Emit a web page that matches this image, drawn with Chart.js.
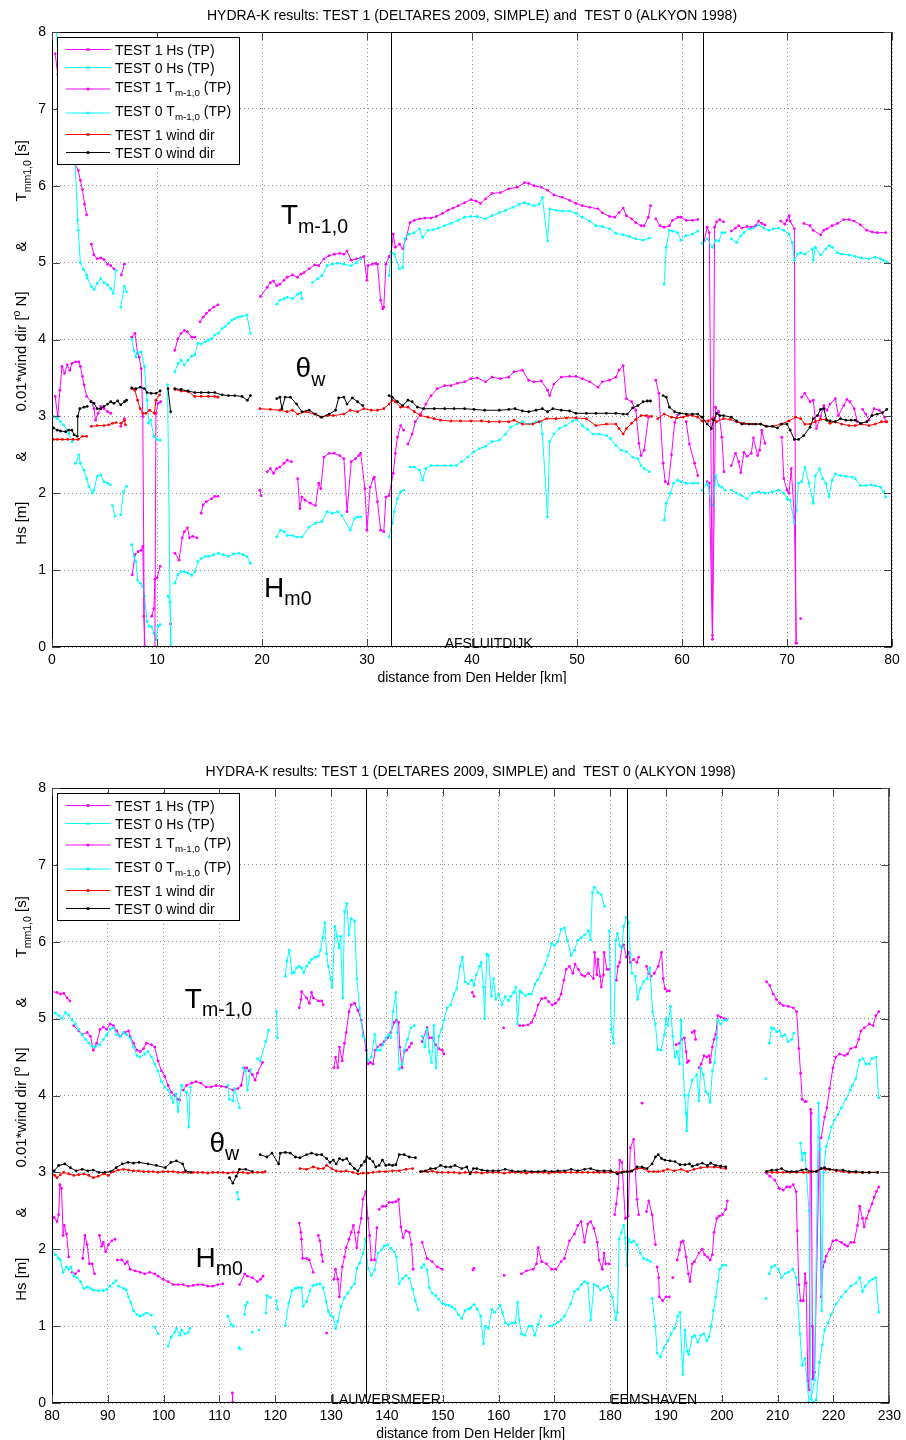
<!DOCTYPE html>
<html>
<head>
    <title>HYDRA-K results</title>
    <script src="https://cdn.jsdelivr.net/npm/chart.js"></script>
    <style>
        body { margin: 0; background: #fff; }
        .painel { position: absolute; left: 0; width: 906px; height: 684px; }
    </style>
</head>
<body>
    <div class="painel" style="top:0"><canvas id="grafico1" width="906" height="684"></canvas></div>
    <div class="painel" style="top:756px"><canvas id="grafico2" width="906" height="684"></canvas></div>
    <script>
        // ---- km 0 - 80 (Den Helder - Afsluitdijk) ----
        const topT1Hs = [[0.3,3.26],[0.55,3.0],[0.75,3.34],[0.95,3.65],[1.2,3.56],[1.45,3.67],[1.7,3.6],[1.9,3.69],[2.25,3.71],[2.55,3.71],[2.7,3.65],[2.9,3.52],[3.05,3.41],[3.3,3.26],[3.75,3.19],[4.0,3.1],[4.15,2.95],[4.4,3.04],[4.65,3.13],[4.95,3.1],[5.3,3.06],[5.6,3.04],null,[6.55,2.87],[6.9,2.97],null,
            [7.65,0.94],[7.9,1.2],[8.2,1.24],[8.5,1.26],[8.65,1.31],[8.75,0.4],[8.85,0.0],null,[9.5,0.4],[9.7,0.5],[9.8,0.88],[10.0,0.9],[10.3,1.05],null,[11.3,0.3],null,
            [11.7,1.22],[12.1,1.13],[12.4,1.42],[12.6,1.5],[12.9,1.55],[13.1,1.42],[13.4,1.44],[13.8,1.42],null,[14.2,1.74],[14.4,1.85],[14.7,1.89],[15.2,1.93],[15.5,1.96],[15.8,1.96],null,
            [19.8,2.04],[19.9,1.97],null,[20.5,2.28],[20.8,2.32],[21.1,2.26],[21.4,2.32],[21.7,2.34],[22.1,2.39],[22.4,2.43],[22.8,2.41],null,[23.4,2.19],[23.6,1.8],[23.8,1.95],[24.1,1.91],[24.6,1.87],[25.1,1.84],[25.4,2.13],[25.6,2.06],[25.9,2.47],[26.4,2.52],[26.9,2.52],[27.4,2.49],[27.8,2.45],[28.1,1.76],[28.5,2.41],[28.9,2.45],[29.2,2.49],[29.4,2.52],[29.8,2.06],[30.0,1.52],[30.3,2.08],[30.6,2.19],[30.7,2.21],[31.0,1.89],[31.3,1.52],[31.6,1.5],[31.8,1.95],[32.1,1.97],[32.5,2.26],[32.7,2.52],[32.9,2.73],[33.2,2.88],[33.5,2.82],null,
            [33.9,2.64],[34.3,2.77],[34.6,2.93],[35.1,3.03],[35.6,3.16],[36.1,3.27],[36.7,3.36],[37.4,3.4],[38.0,3.4],[38.6,3.43],[39.3,3.45],[39.9,3.49],[40.5,3.5],[41.3,3.45],[41.9,3.51],[42.7,3.49],[43.5,3.51],[44.0,3.58],[44.8,3.6],[45.4,3.47],[45.9,3.45],[46.6,3.46],[47.2,3.34],[47.4,3.27],[47.8,3.42],[48.5,3.51],[49.3,3.52],[49.9,3.52],[50.5,3.49],[51.2,3.45],[52.0,3.38],[52.4,3.45],[53.1,3.47],[53.7,3.51],[54.0,3.6],[54.4,3.66],[54.7,3.23],[55.2,3.19],[55.6,3.08],[55.9,2.65],[56.1,2.49],[56.4,2.56],[56.8,2.99],null,
            [57.5,3.47],[57.8,3.3],[58.2,2.39],[58.4,2.15],[58.7,2.12],[59.0,2.5],[59.3,2.92],[59.6,3.02],null,[60.4,2.93],[60.7,2.64],[61.2,2.39],[61.5,2.23],null,[62.4,2.15],[62.6,2.13],[62.9,0.15],[63.2,3.12],[63.5,3.06],[63.8,2.73],[64.0,2.28],null,
            [64.7,2.36],[65.1,2.52],[65.4,2.41],[65.6,2.27],[65.9,2.53],[66.2,2.48],[66.6,2.52],[66.8,2.72],[67.2,2.49],[67.4,2.56],[67.6,2.82],[67.9,2.65],null,[69.5,2.73],[69.7,2.19],[70.0,2.04],[70.2,2.0],[70.4,2.32],[70.7,1.69],[70.9,0.05],null,[71.3,0.37],null,
            [71.4,3.25],[71.7,3.3],[72.2,3.19],[72.5,3.21],[72.8,2.84],[73.2,3.0],[73.5,3.14],[73.8,3.08],[74.1,3.16],[74.6,3.23],[74.9,3.01],[75.4,3.14],[75.7,3.22],[76.0,3.19],[76.4,3.1],[76.7,2.93],null,[77.2,3.09],[77.5,3.03],[77.8,2.95],[78.3,3.1],[78.8,3.08],[79.3,2.99],[79.4,2.93]];

        const topT0Hs = [[0.15,3.0],[0.5,2.97],[0.8,2.93],[1.1,2.89],[1.45,2.82],[1.6,2.78],[1.9,2.67],null,[2.25,2.39],[2.55,2.5],[2.7,2.39],[3.05,2.3],[3.3,2.19],[3.5,2.09],[3.85,2.0],[4.0,2.04],[4.3,2.22],[4.65,2.24],[4.95,2.15],[5.3,2.13],[5.55,2.11],null,[5.75,1.84],[6.0,1.7],null,[6.55,1.72],[6.8,2.02],[7.1,2.09],null,
            [7.6,1.33],[7.8,1.18],[8.0,1.11],[8.15,0.87],[8.4,0.83],[8.65,0.79],[8.8,0.66],[9.05,0.33],[9.3,0.27],[9.5,0.26],[9.7,0.18],[9.9,0.09],[10.1,0.27],[10.3,0.29],null,[11.05,0.66],[11.25,0.58],[11.35,0.0],null,
            [11.7,0.83],[12.0,0.94],[12.3,0.98],[12.6,0.98],[12.95,0.96],[13.3,0.93],[13.6,0.98],[13.9,1.11],[14.2,1.15],[14.6,1.18],[14.9,1.18],[15.4,1.2],[15.85,1.22],[16.3,1.2],[16.8,1.18],[17.3,1.21],[17.8,1.22],[18.2,1.2],[18.55,1.18],[18.9,1.09],null,
            [21.4,1.43],[21.75,1.52],[22.1,1.5],[22.4,1.45],[22.9,1.45],[23.3,1.43],[23.8,1.43],[24.5,1.56],[25.1,1.61],[25.7,1.63],[26.2,1.76],[26.7,1.74],[27.2,1.76],[27.6,1.71],[28.4,1.52],[28.8,1.67],[29.1,1.69],[29.4,1.69],null,[32.1,1.43],[32.4,1.61],[32.6,1.76],[32.9,1.93],[33.2,2.02],[33.5,2.04],null,
            [34.1,2.34],[34.5,2.34],[35.0,2.3],[35.3,2.17],[35.6,2.32],[36.1,2.36],[36.7,2.36],[37.4,2.36],[38.0,2.36],[38.5,2.36],[39.0,2.41],[39.6,2.47],[40.2,2.54],[40.7,2.58],[41.3,2.61],[41.9,2.67],[42.6,2.69],[43.2,2.77],[43.7,2.86],[44.3,2.9],[44.8,2.93],[45.4,2.9],[46.1,2.93],[46.6,2.93],[46.7,2.77],[47.2,1.69],[47.4,2.67],[47.8,2.77],[48.3,2.84],[48.9,2.88],[49.6,2.94],[50.0,2.96],[50.5,2.88],[51.0,2.83],[51.5,2.77],[52.1,2.77],[52.8,2.75],[53.2,2.71],[53.7,2.62],[54.2,2.56],[54.7,2.54],[55.3,2.47],[55.8,2.45],[56.1,2.36],[56.4,2.32],[56.9,2.28],null,
            [58.3,1.65],[58.5,1.87],[58.9,2.0],[59.2,2.13],[59.6,2.17],[59.9,2.15],[60.4,2.13],[61.0,2.13],[61.5,2.13],null,[61.9,2.04],[62.4,2.13],[62.5,2.1],[62.8,1.84],[63.0,1.85],[63.2,2.23],[63.5,2.1],[63.8,2.08],[64.1,2.04],null,
            [64.7,2.04],[65.2,2.0],[65.7,1.97],[66.2,1.93],[66.7,2.0],[67.3,2.02],[67.9,2.0],[68.6,2.02],[69.2,2.04],[69.7,2.0],[70.0,1.93],[70.3,1.91],[70.7,1.61],[70.9,1.78],[71.1,2.13],[71.4,2.15],[71.7,2.34],[72.1,2.13],[72.5,1.87],[72.7,2.23],[73.1,2.32],[73.4,2.19],[73.7,2.13],[74.0,1.95],[74.3,2.17],[74.6,2.25],[75.1,2.23],[75.6,2.22],[76.2,2.21],[76.5,2.19],[77.0,2.1],[77.5,2.1],[78.0,2.11],[78.4,2.1],[78.9,2.08],[79.2,2.02],[79.4,1.95]];

        const topT1Tm = [[0.3,7.72],[0.55,7.45],[1.5,6.9],[2.2,6.28],[2.5,6.2],[2.7,6.07],[2.9,5.95],[3.1,5.76],[3.3,5.62],null,[3.75,5.24],[4.0,5.1],[4.3,5.05],[4.65,5.06],[4.95,5.04],[5.3,4.98],[5.6,4.96],[5.9,4.92],null,[6.6,4.84],[6.9,4.98],null,
            [7.6,4.03],[7.9,4.08],[8.15,3.82],[8.3,3.77],[8.5,3.62],[8.65,3.0],[8.8,0.0],null,[9.8,0.0],[9.9,3.04],[10.1,3.17],[10.35,3.19],null,
            [11.7,3.86],[12.0,4.01],[12.3,4.08],[12.6,4.12],[12.9,4.1],[13.3,4.03],[13.6,4.03],null,[14.1,4.23],[14.4,4.29],[14.7,4.34],[15.0,4.38],[15.4,4.42],[15.8,4.45],null,
            [19.85,4.56],[20.5,4.68],[20.8,4.74],[21.1,4.76],[21.4,4.7],[21.7,4.72],[22.1,4.77],[22.4,4.81],[22.9,4.84],[23.4,4.81],[23.7,4.85],[24.0,4.87],[24.5,4.92],[25.0,4.97],[25.4,4.96],[25.9,5.05],[26.4,5.09],[26.9,5.11],[27.4,5.12],[27.8,5.11],[28.1,5.15],[28.5,5.03],[29.0,5.05],[29.4,5.06],[29.7,5.08],[30.0,4.77],[30.1,4.96],[30.5,4.98],[30.8,4.99],[31.0,4.98],[31.3,4.51],[31.5,4.4],[31.6,4.42],[31.8,4.98],[32.1,5.08],[32.3,5.13],[32.5,5.37],[32.7,5.2],[33.1,5.24],[33.4,5.18],[33.7,5.31],[34.1,5.52],[34.5,5.55],[35.0,5.57],[35.5,5.58],[36.1,5.58],[36.6,5.6],[37.2,5.64],[37.7,5.68],[38.2,5.71],[38.7,5.74],[39.3,5.78],[39.9,5.82],[40.4,5.8],[40.8,5.77],
            [41.3,5.83],[41.9,5.9],[42.7,5.91],[43.5,5.96],[44.3,5.98],[45.0,6.04],[45.4,6.03],[45.9,6.0],[46.6,5.98],[47.2,5.94],[47.8,5.88],[48.6,5.85],[49.3,5.81],[49.9,5.77],[50.5,5.74],[51.2,5.72],[52.0,5.7],[52.4,5.65],[53.1,5.6],[53.6,5.59],[54.0,5.65],[54.4,5.71],[54.7,5.61],[55.2,5.57],[55.6,5.52],[56.1,5.48],[56.4,5.48],[56.8,5.59],[57.0,5.74],null,
            [57.5,5.57],[57.9,5.48],[58.3,5.46],[58.8,5.48],[59.1,5.55],[59.6,5.59],[59.9,5.59],[60.4,5.55],[61.0,5.55],[61.5,5.56],null,[62.1,5.28],[62.4,5.46],[62.6,5.39],[62.9,0.1],[63.1,5.46],[63.3,5.53],[63.6,5.56],[63.95,5.53],null,
            [64.7,5.41],[65.1,5.45],[65.4,5.48],[65.7,5.45],[66.2,5.47],[66.6,5.46],[67.0,5.48],[67.3,5.54],[67.6,5.51],[67.9,5.49],null,[69.4,5.54],[69.8,5.5],[70.0,5.55],[70.2,5.61],[70.3,5.54],[70.7,5.44],[70.85,0.05],null,
            [71.6,5.51],[72.2,5.48],[72.5,5.42],[73.2,5.36],[73.5,5.42],[73.8,5.44],[74.3,5.48],[74.8,5.51],[75.4,5.56],[75.9,5.56],[76.4,5.54],[77.0,5.49],[77.6,5.42],[78.1,5.4],[78.6,5.39],[79.4,5.39]];

        const topT0Tm = [[0.35,8.2],[0.6,7.6],[1.5,6.9],[2.2,6.3],[2.45,5.55],[2.5,5.42],[2.7,5.0],[3.0,4.91],[3.3,4.84],[3.35,4.8],[3.75,4.69],[4.0,4.65],[4.3,4.73],[4.65,4.79],[4.95,4.74],[5.3,4.71],[5.6,4.66],[5.85,4.6],[6.1,4.9],null,[6.55,4.42],[6.9,4.69],[7.1,4.62],null,
            [7.6,4.0],[7.8,3.86],[8.0,3.77],[8.2,3.83],[8.5,3.84],[8.8,3.65],[9.05,3.21],[9.2,2.91],[9.4,2.95],[9.7,2.74],[10.0,2.7],[10.3,2.69],null,[11.0,3.41],[11.3,0.0],null,
            [11.7,3.58],[12.0,3.69],[12.3,3.73],[12.6,3.67],[12.95,3.73],[13.3,3.78],[13.6,3.8],[13.9,3.95],[14.2,3.94],[14.6,3.97],[14.9,3.99],[15.2,4.01],[15.5,4.06],[15.85,4.08],[16.2,4.14],[16.5,4.17],[16.8,4.21],[17.1,4.25],[17.4,4.27],[17.7,4.29],[18.1,4.3],[18.55,4.32],[18.9,4.08],null,
            [21.4,4.46],[21.7,4.51],[22.1,4.53],[22.4,4.55],[22.9,4.53],[23.4,4.59],[23.7,4.61],[23.8,4.53],null,[24.8,4.74],[25.3,4.79],[25.7,4.83],[26.2,4.96],[26.7,4.98],[27.2,4.99],[27.8,4.98],[28.5,4.96],[29.0,5.0],[29.4,5.05],null,
            [32.1,4.83],[32.3,5.13],[32.6,5.11],[33.1,4.92],[33.4,4.94],[33.6,5.31],[34.0,5.37],[34.5,5.39],[35.0,5.44],[35.3,5.33],[35.8,5.42],[36.3,5.43],[36.8,5.45],[37.4,5.48],[38.0,5.51],[38.7,5.55],[39.3,5.59],[39.9,5.6],[40.5,5.6],[41.3,5.57],[41.9,5.61],[42.6,5.65],[43.2,5.68],[43.9,5.72],[44.5,5.76],[45.0,5.78],[45.4,5.76],[45.9,5.74],[46.4,5.76],[46.7,5.85],[47.2,5.28],[47.4,5.7],[48.0,5.68],[48.6,5.67],[49.3,5.67],[49.9,5.64],[50.5,5.59],[51.2,5.54],[51.8,5.48],[52.4,5.47],[53.1,5.44],[53.7,5.38],[54.4,5.36],[55.0,5.34],[55.6,5.31],[56.3,5.29],[56.9,5.32],null,
            [58.3,4.72],[58.5,5.2],[58.8,5.42],[59.1,5.41],[59.6,5.39],[59.9,5.29],[60.4,5.35],[61.0,5.37],[61.5,5.41],null,[61.9,5.25],[62.4,5.31],[62.9,5.2],[63.2,5.29],[63.5,5.28],[63.8,5.39],[64.1,5.39],null,
            [64.7,5.31],[65.2,5.26],[65.6,5.35],[65.9,5.39],[66.4,5.44],[66.8,5.45],[67.3,5.49],[67.8,5.45],[68.3,5.42],[68.7,5.44],[69.2,5.45],[69.7,5.42],[70.2,5.37],[70.5,5.26],[70.7,5.03],[71.0,5.11],[71.3,5.13],[71.7,5.11],[72.4,5.18],[72.5,5.03],[72.7,5.2],[73.2,5.1],[73.7,5.18],[74.0,5.22],[74.3,5.2],[74.8,5.13],[75.2,5.11],[75.9,5.1],[76.5,5.08],[77.1,5.06],[77.8,5.05],[78.4,5.07],[78.9,5.05],[79.2,5.03],[79.5,5.01]];

        const topT1Dir = [[0.15,2.7],[0.5,2.7],[1.0,2.7],[1.5,2.7],[2.0,2.7],[2.5,2.7],[2.9,2.74],[3.3,2.74],null,[3.75,2.87],[4.3,2.88],[4.95,2.88],[5.4,2.89],[5.75,2.91],[6.1,2.92],null,[6.55,2.91],[6.9,2.95],[7.0,2.89],null,
            [7.6,3.36],[7.9,3.34],[8.15,3.21],[8.4,3.1],[8.65,3.04],[8.95,3.04],[9.3,3.08],[9.75,3.04],[9.9,3.21],[10.25,3.28],null,[11.7,3.35],[12.3,3.33],[13.0,3.32],[13.6,3.26],[14.2,3.26],[14.9,3.26],[15.5,3.26],[15.8,3.25],null,
            [19.8,3.1],[20.8,3.09],[21.7,3.08],[22.4,3.06],[22.9,3.08],[23.4,3.03],[24.2,3.06],[25.0,3.03],[25.6,2.99],[26.2,3.01],[26.8,3.01],[27.8,3.03],[28.4,3.08],[29.1,3.06],[29.7,3.1],[30.4,3.08],[31.0,3.08],[31.6,3.1],[32.1,3.16],[32.4,3.21],[32.7,3.19],[33.2,3.12],[33.9,3.12],[34.5,3.06],[35.1,3.01],[35.8,2.99],[36.4,2.97],[37.0,2.95],[38.0,2.94],[38.9,2.94],[39.9,2.94],[40.9,2.94],[41.6,2.93],[42.6,2.93],[43.5,2.93],[44.0,2.95],[44.8,2.9],[45.8,2.9],[46.4,2.93],[47.1,2.97],[48.0,2.97],[49.0,2.98],[49.9,2.98],[50.9,2.97],[51.8,2.88],[52.8,2.9],[53.7,2.9],[54.0,2.84],[54.4,2.77],[54.7,2.84],[55.2,2.91],[55.6,2.96],[56.1,3.01],[56.6,3.01],[57.1,3.0],null,
            [57.7,2.97],[58.3,3.03],[59.0,2.99],[59.5,2.98],[60.1,2.99],[60.5,3.01],[61.0,3.01],[61.5,2.99],[61.9,2.94],[62.5,2.94],[62.9,2.97],[63.3,2.93],[63.95,2.97],[64.6,2.96],[65.2,2.93],[65.9,2.91],[66.7,2.9],[67.5,2.9],[68.1,2.87],[68.7,2.87],[69.4,2.9],[70.2,2.94],[70.8,2.99],[71.3,2.97],[71.7,2.9],[72.2,2.9],[72.7,2.93],[73.2,2.96],[73.7,2.96],[74.1,2.91],[74.6,2.93],[75.2,2.9],[75.9,2.88],[76.5,2.88],[77.1,2.9],[77.8,2.88],[78.4,2.9],[79.0,2.93],[79.5,2.93]];

        const topT0Dir = [[0.15,2.85],[0.5,2.82],[0.8,2.81],[1.3,2.8],[1.6,2.82],[1.9,2.82],[2.1,2.76],[2.4,2.74],[2.45,3.0],[2.65,3.1],[3.05,3.12],[3.35,3.13],null,[3.7,3.19],[4.0,3.17],[4.3,3.1],[4.65,3.1],[4.95,3.13],[5.3,3.16],[5.6,3.19],[5.9,3.17],[6.25,3.2],[6.55,3.15],[6.9,3.19],[7.1,3.21],null,
            [7.6,3.37],[8.0,3.36],[8.4,3.38],[8.8,3.36],[9.05,3.31],[9.45,3.3],[9.9,3.3],[10.3,3.33],null,[11.05,3.36],[11.3,3.06],null,[11.7,3.36],[12.3,3.35],[12.95,3.33],[13.6,3.31],[14.2,3.31],[14.9,3.31],[15.5,3.31],[16.2,3.28],[16.8,3.27],[17.4,3.27],[18.1,3.26],[18.6,3.21],[18.9,3.27],null,
            [21.4,3.23],[21.7,3.25],[21.9,3.1],[22.2,3.25],[22.7,3.25],[23.3,3.16],[23.8,3.06],[24.5,3.08],[25.1,3.03],[25.7,2.99],[26.4,3.03],[27.0,3.08],[27.3,3.24],[27.8,3.25],[28.1,3.16],[28.6,3.24],[29.1,3.19],[29.6,3.14],null,
            [32.1,3.27],[32.4,3.25],[32.9,3.19],[33.4,3.14],[33.9,3.21],[34.3,3.19],[34.8,3.12],[35.4,3.1],[36.4,3.1],[37.4,3.1],[38.3,3.1],[39.3,3.1],[40.2,3.09],[41.2,3.08],[42.6,3.08],[43.5,3.09],[44.1,3.1],[44.8,3.07],[45.4,3.06],[46.1,3.08],[46.7,3.1],[47.2,3.06],[47.7,3.1],[48.5,3.08],[49.3,3.07],[49.9,3.04],[50.9,3.04],[51.8,3.04],[52.8,3.04],[53.7,3.04],[54.4,3.03],[54.8,3.03],[55.3,3.11],[55.8,3.14],[56.3,3.19],[56.7,3.2],[57.0,3.2],null,
            [58.2,3.27],[58.5,3.25],[58.8,3.12],[59.3,3.06],[59.8,3.04],[60.4,3.03],[61.0,3.03],[61.5,3.03],[61.9,2.99],[62.4,2.9],[62.8,2.84],[63.0,2.95],[63.3,3.04],[63.6,3.01],[63.95,3.01],[64.7,2.99],[65.2,2.94],[65.7,2.9],[66.4,2.9],[67.0,2.9],[67.5,2.9],[68.0,2.87],[68.6,2.87],[69.1,2.85],[69.5,2.9],[70.0,2.9],[70.3,2.82],[70.7,2.7],[71.1,2.7],[71.6,2.75],[72.2,2.86],[72.5,2.97],[72.9,3.01],[73.2,3.09],[73.5,3.1],[73.8,2.95],[74.1,2.94],[74.6,2.93],[75.1,2.97],[75.6,2.95],[76.1,2.95],[76.5,2.95],[77.0,2.91],[77.6,2.93],[78.1,3.01],[78.6,3.03],[79.1,3.05],[79.5,3.09]];

        // ---- km 80 - 230 (Afsluitdijk - Eemshaven) ----
        const botT1Hs = [[80.0,2.43],[80.4,2.41],[80.9,2.36],[81.2,2.45],[81.4,2.84],[81.7,2.79],[82.0,2.18],[82.2,2.31],[82.6,2.2],[83.0,1.9],null,[83.6,1.7],[84.2,1.68],[84.8,1.72],null,[85.5,1.88],[85.9,2.18],[86.3,2.06],[86.7,1.81],[87.2,1.81],[87.6,1.68],null,[88.5,2.18],[88.9,2.04],[89.2,2.09],[89.6,1.97],[90.1,2.06],[90.7,2.11],[91.3,2.13],null,
            [91.7,1.86],[92.5,1.86],[93.1,1.81],[93.5,1.84],[94.0,1.74],[94.9,1.72],[95.8,1.7],[96.6,1.68],[97.5,1.7],[98.4,1.68],[99.0,1.65],[99.9,1.61],[100.8,1.58],[101.7,1.54],[102.6,1.54],[103.5,1.54],[104.4,1.52],[105.3,1.53],[106.1,1.54],[107.0,1.54],[107.9,1.52],[108.8,1.52],[109.7,1.54],[110.6,1.55],null,[112.3,0.13],[112.35,0.01],null,
            [113.6,1.54],[114.5,1.68],[115.0,1.65],[115.9,1.63],[116.8,1.58],[117.4,1.61],[117.8,1.65],null,
            [124.3,2.34],[124.6,2.22],[124.7,2.13],[124.9,1.88],[125.6,1.88],[126.1,1.86],[126.8,1.7],null,[127.7,2.18],[128.0,2.11],[128.3,1.93],[128.5,1.84],null,[129.2,0.91],null,
            [130.5,1.61],[130.8,1.74],[131.2,1.61],[131.5,1.38],[132.0,1.77],[132.4,1.9],[132.7,2.02],[133.2,2.13],[133.6,2.22],[134.0,2.31],[134.6,2.02],[134.9,2.22],[135.4,2.4],[135.7,2.65],[136.2,2.75],[136.6,2.4],[136.9,2.18],[137.2,1.86],[137.8,1.86],[138.2,2.28],null,
            [138.6,2.52],[139.2,2.56],[139.8,2.56],[140.4,2.61],[141.0,2.61],[141.6,2.62],[142.1,2.65],[142.5,2.29],[142.9,2.15],[143.4,2.24],[144.0,2.22],[144.4,2.06],[144.7,1.74],null,[146.3,2.09],[147.2,1.88],[148.1,1.84],[149.0,1.77],[149.9,1.74],null,[155.4,1.73],[155.6,1.75],null,[161.0,1.66],null,
            [164.1,1.68],[165.0,1.72],[166.2,1.74],[166.8,1.81],[167.1,2.02],[167.7,1.84],[168.6,1.81],[169.5,1.74],[170.3,1.74],[171.2,1.84],[171.8,1.88],[172.7,2.11],[173.6,2.2],[174.2,2.31],[174.8,2.36],[175.4,2.09],[176.0,2.33],[176.5,2.36],[177.1,2.27],[177.7,2.09],[178.0,1.86],[178.6,1.74],[178.9,1.95],[179.2,1.81],[179.8,1.81],null,
            [180.8,2.45],[181.1,2.59],[181.4,2.79],[181.7,3.16],[182.1,3.13],[182.7,2.4],[183.2,2.43],[183.6,3.32],[184.2,3.43],[184.8,2.65],[185.1,2.45],null,[185.7,3.9],null,[186.5,2.49],[186.9,2.63],[187.5,2.45],[188.1,2.06],null,
            [188.4,1.77],[188.7,1.63],[188.8,1.38],[189.4,1.33],[190.0,1.38],[190.6,1.38],null,[191.2,1.63],null,[192.0,1.86],[192.4,1.99],[192.7,2.09],[193.1,2.11],[193.6,1.9],[194.0,1.68],[194.3,1.58],[194.7,1.81],[195.1,1.84],[195.9,1.95],[196.5,2.0],[196.9,1.93],[197.4,1.9],[197.9,1.86],[198.3,1.93],[198.6,2.22],[199.1,2.4],[199.5,2.43],[200.1,2.45],[200.7,2.52],[201.0,2.63],null,
            [208.0,2.99],[208.6,2.95],[209.5,2.9],[210.3,2.79],[211.0,2.77],[211.6,2.81],[212.2,2.81],[212.8,2.84],[213.3,2.75],[213.5,2.24],[213.8,1.54],[214.1,1.33],[214.6,1.33],[214.9,1.68],[215.1,1.56],[215.4,0.29],[215.6,0.17],[215.9,3.82],[216.0,3.77],[216.2,1.0],[216.3,0.31],[216.6,0.4],[217.5,3.45],[217.8,1.38],[218.1,1.77],[218.4,1.84],[218.7,1.91],[219.3,2.0],[219.9,2.11],[220.5,2.12],[221.4,2.09],[222.0,2.06],[222.5,2.04],[223.1,2.09],[223.7,2.09],[224.3,2.31],[224.7,2.56],[225.2,2.4],[225.5,2.29],[225.9,2.4],[226.4,2.5],[226.9,2.59],[227.3,2.68],[227.7,2.75],[228.1,2.81]];

        const botT0Hs = [[80.0,1.99],[80.6,1.93],[81.2,1.88],[81.5,1.86],[82.0,1.7],[82.6,1.77],[83.0,1.74],[83.4,1.77],[83.9,1.65],[84.5,1.63],[85.1,1.58],[85.7,1.49],[86.3,1.51],[86.9,1.49],[87.4,1.47],[88.3,1.46],[89.2,1.46],[89.8,1.48],[90.4,1.52],[91.0,1.56],[91.5,1.59],null,
            [91.9,1.52],[92.8,1.49],[93.3,1.47],[93.7,1.38],[94.1,1.31],[94.6,1.2],[95.2,1.15],[95.8,1.13],[96.4,1.15],[96.9,1.17],[97.8,1.14],null,[98.4,0.99],[99.0,0.9],null,[100.8,0.74],[101.4,0.86],[102.0,0.92],[102.3,0.97],[102.9,0.88],[103.2,0.95],[103.8,0.9],[104.4,0.92],[104.7,0.97],null,
            [111.5,1.13],[112.1,1.02],[112.5,1.0],null,[113.2,2.74],[113.4,2.65],null,[113.5,0.72],[113.7,0.7],null,[114.5,1.15],[114.7,1.27],[115.0,1.31],null,[115.9,0.92],null,[117.1,0.95],null,[118.3,1.17],[118.5,1.4],[119.1,1.37],null,[120.2,1.33],[120.4,1.22],null,
            [121.8,1.01],[122.4,1.3],[123.0,1.46],[123.6,1.49],[124.1,1.5],[124.7,1.5],[125.0,1.26],[125.6,1.32],[126.2,1.46],[126.8,1.53],[127.4,1.54],[128.0,1.55],[128.6,1.5],[129.1,1.32],[129.5,1.19],[129.9,1.14],[130.4,1.12],[130.8,0.97],[131.2,1.06],[131.8,1.26],[132.4,1.37],[133.0,1.43],[133.6,1.5],[134.2,1.55],[134.6,1.75],[135.1,1.82],[135.7,1.95],[136.2,2.13],[136.6,1.75],[137.2,1.66],[137.8,1.73],[138.4,1.95],[139.0,1.99],[139.5,2.04],[140.1,2.06],[140.7,2.01],[141.3,1.97],[141.7,1.9],[142.2,1.55],[142.8,1.62],[143.4,1.66],[144.0,1.62],[144.6,1.48],[145.1,1.33],[145.6,1.21],null,
            [146.2,1.76],[146.6,1.8],[147.2,1.73],[147.6,1.5],[148.1,1.43],[148.7,1.4],[149.3,1.35],[149.9,1.3],[150.5,1.28],[151.1,1.27],[151.7,1.25],[152.2,1.22],[152.8,1.15],[153.4,1.1],[154.0,1.2],[154.6,1.22],[155.0,1.24],[155.6,1.28],[156.2,1.22],[156.8,1.13],[157.3,0.77],[157.6,1.0],[158.2,0.97],[158.8,1.22],[159.3,1.18],[160.3,1.27],[160.7,1.18],[161.2,1.04],[161.8,1.02],[162.4,1.04],[163.0,1.04],[163.4,1.31],[163.7,1.08],[164.1,0.9],[164.7,0.88],[165.4,1.0],[166.0,1.0],[166.5,0.88],[167.1,1.02],[167.6,1.13],null,
            [169.2,1.0],[170.0,1.02],[170.6,1.05],[171.2,1.08],[171.8,1.13],[172.9,1.29],[173.6,1.45],[174.2,1.48],[174.8,1.54],[175.4,1.58],[176.0,1.56],[176.5,1.08],[177.1,1.54],[177.7,1.52],[178.3,1.47],[178.9,1.5],[179.5,1.52],[180.4,1.38],[181.0,1.08],[181.3,1.18],[181.6,2.13],[182.0,2.22],[182.4,2.31],[182.7,2.15],[183.0,1.79],[183.3,2.13],[183.7,2.09],[184.2,2.11],[184.8,2.06],[185.4,1.95],[186.0,1.88],[186.6,1.86],[187.2,1.84],null,
            [187.5,1.36],[188.1,1.0],[188.4,0.65],[189.0,0.6],[189.6,0.72],[190.3,0.81],[190.9,0.9],[191.5,0.97],[192.1,1.13],[192.5,1.18],[193.0,0.37],[193.4,0.95],[193.8,0.67],[194.1,0.63],[194.7,0.86],[195.1,0.88],[195.7,0.79],[196.2,0.88],[196.8,0.9],[197.3,0.81],[197.7,0.86],[198.1,1.0],[198.5,1.2],[198.9,1.38],[199.3,1.58],[199.6,1.74],[200.1,1.79],[200.7,1.79],null,
            [207.9,1.36],null,[208.5,1.68],[208.9,1.77],[209.5,1.79],[210.1,1.74],[210.7,1.63],[211.3,1.68],[211.9,1.7],[212.7,1.74],[213.3,1.63],[214.0,0.9],[214.4,0.49],[214.9,0.58],[215.6,0.01],[216.3,0.01],[216.9,0.04],[217.5,0.53],[218.0,0.76],[218.4,0.95],[219.0,1.04],[219.6,1.15],[220.5,1.29],[221.4,1.38],[222.2,1.45],[223.1,1.52],[224.0,1.56],[224.7,1.63],[225.2,1.45],[225.7,1.52],[226.4,1.58],[227.0,1.61],[227.6,1.63],[228.1,1.18]];

        const botT1Tm = [[80.0,5.35],[80.9,5.34],[81.5,5.32],[82.1,5.33],[82.7,5.27],[83.2,5.23],null,[83.9,4.91],[84.8,4.84],[85.4,4.79],[86.3,4.82],[86.9,4.77],[87.4,4.59],[88.0,4.68],[88.6,4.86],[89.2,4.89],[89.8,4.86],[90.4,4.93],[91.0,4.91],[91.6,4.84],[92.2,4.77],[93.1,4.82],[93.7,4.84],[94.0,4.77],[94.6,4.68],[95.2,4.59],[95.8,4.57],[96.4,4.61],[96.9,4.68],[97.8,4.66],[98.4,4.63],[99.0,4.45],[99.6,4.32],[100.2,4.25],[100.8,4.13],[101.4,4.04],[102.0,4.0],[102.6,3.95],[102.9,3.94],null,
            [103.5,4.07],[104.1,4.13],[105.0,4.16],[105.8,4.18],[106.7,4.16],[107.6,4.11],[108.5,4.11],[109.4,4.13],[110.3,4.12],[111.2,4.11],[112.4,4.07],[113.3,4.09],[113.9,4.13],[114.5,4.36],[114.9,4.36],[115.3,4.32],[115.9,4.27],[116.4,4.2],[116.8,4.29],[117.7,4.43],null,
            [124.3,5.14],[124.6,5.25],[124.7,5.35],[125.6,5.27],[126.1,5.2],[126.5,5.34],[126.8,5.27],[127.7,5.23],[128.3,5.23],[128.6,5.18],null,
            [130.5,4.36],[130.8,4.5],[131.2,4.36],[131.5,4.63],[132.0,4.45],[132.4,4.68],[132.7,4.82],[133.2,5.09],[133.6,5.18],[134.2,5.2],[134.8,5.11],[135.4,4.98],[136.3,4.59],[136.6,4.41],[137.0,4.43],[137.5,4.41],[137.9,4.59],[138.3,4.63],[138.9,4.66],[139.5,4.7],[140.1,4.75],[140.7,4.82],[141.3,4.95],[141.7,4.98],[142.1,4.95],[142.3,4.63],[142.7,4.36],[143.1,4.57],[143.5,4.59],[144.0,4.63],[144.4,4.68],null,
            [146.3,4.7],[147.2,4.88],[147.6,4.75],[148.1,4.75],[148.7,4.66],[149.3,4.61],[149.9,4.59],[150.2,4.54],null,[155.3,5.34],[155.6,5.29],null,[160.9,4.88],null,
            [163.8,4.91],[164.4,4.91],[165.3,4.92],[165.9,4.95],[166.5,5.04],[167.1,5.18],[167.7,5.26],[168.4,5.27],[169.0,5.22],[169.6,5.18],[170.2,5.2],[170.8,5.25],[171.2,5.32],[171.7,5.5],[172.1,5.64],[172.7,5.68],[173.3,5.59],[173.7,5.71],[174.3,5.64],[174.9,5.57],[175.4,5.55],[176.1,5.59],[177.0,5.52],[177.2,5.86],[177.6,5.57],[177.8,5.77],[178.2,5.55],[178.4,5.41],[178.8,5.57],[178.9,5.86],[179.4,5.64],[179.8,5.64],null,
            [181.1,5.5],[181.4,5.68],[181.7,5.73],[182.1,5.93],[182.4,5.96],[182.9,5.8],[183.3,5.86],[183.6,5.73],[184.2,5.77],[184.8,5.73],[185.1,5.8],null,[186.5,5.68],[186.9,5.59],[187.3,5.55],[187.9,5.59],[188.6,5.68],[189.2,5.86],[189.5,5.52],[189.8,5.39],[190.2,5.36],[190.6,5.36],null,
            [191.8,4.66],[192.4,4.68],[192.8,4.73],[193.3,4.75],[193.6,4.57],[193.8,4.43],[194.1,4.45],null,[194.7,4.82],[195.1,4.84],[195.3,4.73],null,[195.9,4.36],[196.3,4.41],[196.8,4.52],[197.3,4.5],[197.7,4.52],[197.9,4.43],[198.3,4.63],[198.6,4.73],[198.9,4.79],[199.3,5.04],[199.8,5.02],[200.4,5.0],[200.8,4.99],null,
            [208.0,5.48],[208.6,5.43],[209.2,5.32],[209.8,5.25],[210.4,5.2],[211.0,5.17],[211.9,5.16],[212.8,5.14],[213.4,5.09],[213.8,4.61],[214.1,4.29],[214.4,3.95],[214.9,3.92],[215.1,3.92],null,
            [217.8,3.45],[218.4,3.72],[218.8,3.84],[219.3,4.09],[219.9,4.36],[220.4,4.5],[221.1,4.54],[222.0,4.52],[222.5,4.54],[223.1,4.61],[224.0,4.63],[224.5,4.73],[224.9,4.84],[225.5,4.88],[226.4,4.93],[227.1,4.91],[227.6,5.04],[228.1,5.09]];

        const botT0Tm = [[80.0,5.08],[80.6,5.07],[81.2,5.04],[81.8,5.0],[82.4,5.08],[83.0,5.05],[83.6,4.98],[84.2,4.93],[84.8,4.86],[85.4,4.79],[86.0,4.73],[86.6,4.68],[87.2,4.64],[87.7,4.63],[88.5,4.66],[89.2,4.73],[89.8,4.79],[90.4,4.86],[91.0,4.88],[91.6,4.79],[92.2,4.77],[92.8,4.82],[93.4,4.79],[94.0,4.75],[94.6,4.63],[95.2,4.52],[95.8,4.5],[96.6,4.54],[97.2,4.57],[97.8,4.5],[98.4,4.41],[99.0,4.32],[99.6,4.18],[100.2,4.11],[100.8,4.07],[101.4,3.97],[101.7,3.91],[102.2,4.02],[102.6,3.79],[103.2,4.13],[104.1,4.04],[104.5,3.59],[104.8,4.11],null,
            [111.5,4.13],[111.8,3.95],[112.4,3.93],[112.7,4.09],[113.6,3.84],null,[114.2,4.36],[114.7,4.32],[115.0,4.07],[115.6,4.34],null,[116.8,4.48],[117.3,4.45],[118.3,4.7],[118.8,4.85],null,[120.2,5.09],[120.4,4.75],null,
            [121.8,5.55],[122.1,5.75],[122.5,5.89],[123.0,5.59],[123.4,5.6],[123.8,5.66],[124.3,5.68],[124.7,5.66],[125.1,5.6],[125.6,5.68],[126.1,5.73],[126.5,5.77],[127.1,5.8],[127.7,5.81],[128.1,5.89],[128.5,6.05],[128.9,6.25],[129.2,5.84],[129.5,5.68],[129.9,5.52],[130.2,5.41],[130.7,6.2],[131.1,6.07],[131.4,5.92],[131.7,6.07],[132.1,5.27],[132.4,6.39],[132.8,6.5],[133.2,6.09],[133.6,6.3],[134.2,6.27],[134.6,5.52],[135.1,5.14],[135.7,4.77],[136.2,4.73],[136.6,4.45],[137.2,4.5],[137.8,4.79],[138.2,4.59],[138.8,4.59],[139.3,4.66],[139.8,4.75],[140.3,4.79],[140.7,4.75],[141.1,5.09],[141.6,5.34],[141.9,4.82],[142.2,4.34],[142.7,4.41],[143.1,4.59],[143.7,4.73],[144.3,4.88],[144.9,4.91],null,
            [146.3,4.77],[146.8,4.63],[147.2,4.86],[147.6,4.57],[148.0,4.43],[148.4,4.91],[148.8,4.36],[149.3,4.77],[149.8,4.86],[150.2,4.98],[150.8,5.14],[151.4,5.18],[152.0,5.32],[152.5,5.39],[153.1,5.68],[153.5,5.8],[154.0,5.48],[154.6,5.45],[155.2,5.5],[155.6,5.43],[156.0,5.57],[156.6,5.68],[156.9,5.73],[157.3,5.41],[157.5,5.0],[157.9,5.84],[158.2,5.82],[158.7,5.29],[159.1,5.52],[159.5,5.25],[160.0,5.32],[160.6,5.18],[161.2,5.29],[161.8,5.23],[162.2,5.29],[162.7,5.34],[163.1,5.41],[163.4,4.93],[163.8,5.36],[164.1,5.34],[164.8,5.3],[165.4,5.32],[165.9,5.32],[166.5,5.45],[167.0,5.5],[167.6,5.59],[168.3,5.7],[168.9,5.82],[169.5,5.98],[170.0,5.95],[170.6,6.0],[171.2,6.16],[171.8,6.18],[172.3,6.02],[173.0,5.82],[173.6,5.89],[174.2,6.02],[174.8,6.05],[175.4,6.09],[176.1,6.14],[176.5,6.02],[176.8,6.64],[177.2,6.71],[177.8,6.64],[178.4,6.61],[179.0,6.46],null,
            [179.8,6.14],[180.2,4.86],[180.6,4.68],[181.0,6.02],[181.3,6.11],[181.7,5.95],[182.1,5.91],[182.4,6.2],[182.9,6.32],[183.3,6.25],[183.6,5.84],[183.9,5.59],[184.5,5.55],[184.9,5.25],[185.4,5.39],[186.0,5.48],[186.6,5.52],[187.1,5.66],[187.6,5.09],[188.1,4.93],[188.5,4.6],[189.1,4.59],[189.7,4.79],[190.0,5.0],[190.3,4.91],[190.8,5.16],[191.2,4.77],[191.6,4.5],[192.0,4.57],[192.4,4.41],[192.7,4.98],[193.3,4.0],[193.6,3.77],[193.7,3.54],[194.0,4.0],[194.7,4.2],[195.5,4.27],[195.9,3.93],[196.2,4.36],[196.7,4.27],[197.1,4.05],[197.5,4.02],[197.9,3.91],[198.3,4.32],[198.7,4.43],[199.1,4.75],[199.3,4.98],[199.8,4.93],[200.4,4.98],[200.8,4.98],null,
            [207.9,4.22],null,[208.5,4.68],[208.9,4.88],[209.3,4.87],[209.8,4.83],[210.3,4.84],[210.7,4.77],[211.3,4.79],[211.9,4.7],[212.5,4.73],[212.9,4.81],null,
            [214.1,3.38],[214.4,3.16],[214.6,3.25],[214.9,3.25],[215.6,2.5],[216.0,0.05],[216.6,0.3],[217.3,3.9],[217.6,3.3],[217.9,1.2],[218.2,3.0],[218.7,3.34],[219.2,3.45],[219.6,3.59],[220.2,3.68],[220.8,3.75],[221.4,3.84],[222.2,3.95],[223.0,4.07],[223.4,4.13],[224.0,4.22],[224.7,4.46],[225.3,4.48],[225.8,4.41],[226.4,4.41],[226.9,4.48],[227.6,4.5],[228.1,3.97]];

        const botT1Dir = [[80.0,2.98],[80.5,2.96],[80.9,2.93],[81.5,2.97],[82.1,3.0],[83.0,2.98],[83.9,2.96],[84.8,2.97],[85.7,2.98],[86.6,2.96],[87.4,2.93],[88.3,2.95],[89.2,2.98],[90.1,2.96],[91.0,3.01],[91.9,3.03],[92.8,3.04],[93.7,3.03],[94.6,3.02],[95.5,3.02],[96.4,3.01],[97.3,3.01],[98.1,3.01],[99.0,3.0],[99.9,3.01],[100.8,3.01],[101.7,3.01],[102.6,3.0],[103.5,3.0],[104.4,3.0],[105.3,3.0],[106.1,3.0],[107.0,3.0],[107.9,2.99],[108.8,3.0],[109.7,3.0],[110.6,3.0],[111.5,2.99],[112.4,3.0],[113.3,3.0],[114.2,3.0],[115.1,2.99],[115.9,3.0],[116.8,3.0],[117.7,3.0],[118.2,3.01],null,
            [124.4,3.05],[125.6,3.04],[126.8,3.07],[127.7,3.05],[128.6,3.05],[129.2,3.09],[130.1,3.05],[130.9,3.02],[131.8,3.01],[132.7,3.02],[133.9,3.0],[134.8,2.98],[135.7,2.99],[136.6,2.99],[137.5,3.0],[138.6,3.01],[139.8,3.01],[141.0,3.02],[142.2,3.02],[143.4,3.04],[144.6,3.05],null,
            [146.3,3.01],[147.2,3.01],[148.1,3.02],[149.0,3.0],[149.9,3.0],[151.0,3.0],[152.0,3.0],[153.0,2.99],[154.0,3.0],[155.0,3.0],[156.0,3.0],[157.0,2.99],[158.0,3.0],[159.0,3.0],[160.0,3.0],[161.0,2.99],[162.0,3.0],[163.0,3.0],[164.0,3.0],[165.0,2.99],[166.0,3.0],[167.0,3.0],[168.0,3.0],[169.0,2.99],[170.0,3.0],[171.0,3.0],[172.0,3.0],[173.0,3.0],[174.0,3.0],[175.0,3.0],[176.0,3.0],[177.0,3.0],[178.0,3.0],[179.0,3.0],[180.0,3.0],[181.1,3.0],[182.4,3.01],[183.6,3.01],[184.8,3.05],[186.0,3.05],[186.9,3.01],[187.8,3.01],[188.6,3.01],[189.5,3.02],[190.3,3.04],[191.5,3.02],[192.7,3.04],[193.8,3.01],[195.0,3.04],[196.2,3.06],[197.4,3.07],[198.6,3.07],[199.8,3.06],[200.7,3.05],null,
            [208.0,3.01],[209.0,3.0],[210.0,3.0],[211.0,3.0],[212.2,3.0],[213.4,3.0],[214.6,3.0],[215.5,3.0],[216.3,3.01],[217.1,3.02],[217.8,3.05],[218.6,3.04],[219.3,3.04],[220.5,3.02],[221.7,3.01],[222.8,3.0],[224.0,3.0],[225.2,3.0],[226.4,3.0],[227.9,3.0]];

        const botT0Dir = [[80.4,3.02],[81.2,3.09],[82.3,3.11],[83.3,3.06],[84.3,3.02],[85.4,3.04],[86.4,3.02],[87.4,3.03],[88.4,3.0],[89.5,3.0],[90.5,3.01],[91.5,3.06],[92.6,3.11],[93.6,3.13],[94.6,3.12],[95.6,3.13],[97.2,3.11],[98.7,3.09],[100.3,3.06],[101.3,3.13],[102.3,3.15],[103.4,3.11],[103.9,3.02],[104.9,3.0],null,
            [111.8,2.93],[112.4,2.86],[113.0,2.95],[113.6,3.04],[114.7,3.04],[115.9,3.01],null,
            [117.3,3.23],[118.5,3.2],[119.4,3.25],[120.6,3.11],[120.9,3.25],[121.8,3.26],[122.7,3.25],[123.6,3.2],[124.4,3.19],[125.6,3.23],[126.5,3.25],[127.4,3.23],[128.3,3.23],[129.2,3.18],[129.8,3.13],[130.4,3.16],[130.9,3.11],[131.5,3.18],[132.1,3.16],[132.8,3.18],[133.4,3.11],[134.2,3.05],[134.8,3.02],[135.4,3.09],[136.0,3.14],[136.4,3.2],[136.9,3.18],[137.5,3.14],[138.0,3.07],[138.6,3.09],[139.2,3.16],[139.8,3.09],[140.4,3.1],[141.0,3.09],[141.6,3.1],[142.2,3.23],[143.1,3.23],[144.0,3.2],[145.1,3.19],null,
            [146.0,3.01],[146.9,3.02],[147.8,3.05],[148.7,3.05],[149.6,3.09],[150.5,3.07],[151.4,3.07],[152.2,3.09],[153.4,3.05],[154.3,3.07],[154.9,2.98],[155.5,3.05],[156.1,3.05],[157.0,3.03],[158.0,3.02],[159.0,3.02],[160.0,3.02],[161.2,3.04],[162.4,3.02],[163.5,3.01],[164.7,3.02],[165.9,3.01],[167.1,3.01],[168.3,3.02],[169.5,3.01],[170.6,3.02],[171.8,3.02],[173.0,3.04],[174.2,3.02],[175.4,3.04],[176.5,3.05],[177.7,3.02],[178.9,3.02],[180.1,3.02],[181.3,2.98],[182.1,3.0],[183.0,3.01],[183.9,3.02],[184.8,3.07],[185.7,3.07],[186.6,3.05],[187.5,3.11],[188.1,3.2],[188.6,3.23],[189.2,3.18],[189.8,3.16],[190.7,3.15],[191.6,3.14],[192.5,3.1],[193.4,3.1],[194.2,3.11],[194.7,3.08],[195.6,3.1],[196.5,3.12],[197.4,3.09],[198.0,3.12],[198.9,3.09],[199.8,3.08],[200.7,3.07],null,
            [208.0,3.01],[208.9,3.03],[209.8,3.03],[210.7,3.05],[211.6,3.01],[212.5,3.01],[213.4,3.01],[214.3,3.03],[215.1,3.04],[216.0,3.01],[216.9,3.01],[217.8,3.05],[218.4,3.06],[219.3,3.04],[220.5,3.03],[221.7,3.03],[222.8,3.01],[224.0,3.01],[225.2,3.0],[226.4,3.0],[227.9,3.0]];

        const yTicks = [0, 1, 2, 3, 4, 5, 6, 7, 8];
        const titulo = 'HYDRA-K results: TEST 1 (DELTARES 2009, SIMPLE) and  TEST 0 (ALKYON 1998)';
        const tituloX = 'distance from Den Helder [km]';
        const nomesSeries = ['TEST 1 Hs (TP)', 'TEST 0 Hs (TP)', 'TEST 1 T_m-1,0 (TP)', 'TEST 0 T_m-1,0 (TP)', 'TEST 1 wind dir', 'TEST 0 wind dir'];

        const FONTE = '"Liberation Sans", Arial, Helvetica, sans-serif';
        const cores = ['#ff00ff', '#00ffff', '#ff00ff', '#00ffff', '#ff0000', '#000000'];

        // converte [[x,y],...,null,...] em pontos; null quebra a linha
        function pontos(lista) {
            const out = [];
            let ultimo = 0;
            lista.forEach(p => {
                if (p === null) out.push({ x: ultimo + 0.01, y: null });
                else { out.push({ x: p[0], y: p[1] }); ultimo = p[0]; }
            });
            return out;
        }

        // texto com sub/sobrescrito: partes = [[texto, tipo]], tipo '' | 'sub' | 'sup'; numero = espaco em px
        function textoRico(ctx, partes, x, y, tam, alinhar) {
            const larg = partes.map(([t, k]) => {
                if (typeof t === 'number') return t;
                ctx.font = (k ? tam * 0.7 : tam) + 'px ' + FONTE;
                return ctx.measureText(t).width;
            });
            const total = larg.reduce((s, w) => s + w, 0);
            let cx = alinhar === 'center' ? x - total / 2 : x;
            partes.forEach(([t, k], i) => {
                if (typeof t !== 'number') {
                    ctx.font = (k ? tam * 0.7 : tam) + 'px ' + FONTE;
                    const dy = k === 'sub' ? tam * 0.3 : (k === 'sup' ? -tam * 0.42 : 0);
                    ctx.fillText(t, cx, y + dy);
                }
                cx += larg[i];
            });
        }

        function partesNome(nome) {
            if (nome.indexOf('T_') < 0) return [[nome, '']];
            const [a, b] = nome.split('T_');
            const [sub, resto] = [b.slice(0, 5), b.slice(5)];
            return [[a + 'T', ''], [sub, 'sub'], [resto, '']];
        }

        function decoracao(painel) {
            return {
                id: 'decoracao',
                afterDraw(chart) {
                    const { ctx, chartArea: a, scales: { x, y } } = chart;
                    ctx.save();
                    ctx.textBaseline = 'alphabetic';
                    ctx.textAlign = 'left';

                    // linhas verticais dos locais
                    ctx.strokeStyle = '#000';
                    ctx.lineWidth = 1;
                    painel.locais.forEach(l => {
                        const px = Math.round(x.getPixelForValue(l.km)) + 0.5;
                        ctx.beginPath(); ctx.moveTo(px, a.top); ctx.lineTo(px, a.bottom); ctx.stroke();
                        if (l.nome) {
                            ctx.fillStyle = '#000';
                            ctx.font = '14px ' + FONTE;
                            ctx.fillText(l.nome, x.getPixelForValue(l.kmTexto), a.bottom + 1);
                        }
                    });

                    // moldura e marcas internas
                    ctx.strokeStyle = '#000';
                    ctx.strokeRect(a.left + 0.5, a.top + 0.5, a.right - a.left - 1, a.bottom - a.top - 1);
                    ctx.strokeStyle = '#444';
                    ctx.beginPath();
                    yTicks.forEach(v => {
                        const py = Math.round(y.getPixelForValue(v)) + 0.5;
                        ctx.moveTo(a.left, py); ctx.lineTo(a.left + 8, py);
                        ctx.moveTo(a.right, py); ctx.lineTo(a.right - 8, py);
                    });
                    for (let v = painel.xMin; v <= painel.xMax; v += 10) {
                        const px = Math.round(x.getPixelForValue(v)) + 0.5;
                        ctx.moveTo(px, a.bottom); ctx.lineTo(px, a.bottom - 8);
                        ctx.moveTo(px, a.top); ctx.lineTo(px, a.top + 8);
                    }
                    ctx.stroke();

                    // rotulos grandes dentro do grafico
                    ctx.fillStyle = '#000';
                    painel.notas.forEach(n => {
                        textoRico(ctx, [[n.txt, ''], [n.sub, 'sub']], x.getPixelForValue(n.km), y.getPixelForValue(n.v), 28, 'left');
                    });

                    // titulo e eixo x
                    ctx.font = '14px ' + FONTE;
                    ctx.textAlign = 'center';
                    const meio = (a.left + a.right) / 2;
                    ctx.fillText(titulo, meio, 20);
                    ctx.fillText(tituloX, meio, a.bottom + 35);
                    ctx.textAlign = 'left';

                    // eixo y (texto composto, rotacionado)
                    ctx.save();
                    ctx.translate(21, (a.top + a.bottom) / 2 + 3);
                    ctx.rotate(-Math.PI / 2);
                    textoRico(ctx, [['Hs [m]', ''], [40], ['&', ''], [40], ['0.01*wind dir [', ''], ['o', 'sup'], [' N]', ''], [40], ['&', ''], [40], ['T', ''], ['mm1,0', 'sub'], [' [s]', '']], 0, 5, 15, 'center');
                    ctx.restore();

                    // legenda
                    const lx = 57.5, ly = 37.5, lw = 182, lh = 127;
                    ctx.fillStyle = '#fff';
                    ctx.fillRect(lx, ly, lw, lh);
                    ctx.strokeStyle = '#000';
                    ctx.strokeRect(lx, ly, lw, lh);
                    const linhas = [49.5, 67.5, 89, 113, 134.5, 152.5];
                    const bases = [55, 73, 91.5, 115.5, 140, 158];
                    nomesSeries.forEach((nome, i) => {
                        ctx.strokeStyle = cores[i];
                        ctx.beginPath(); ctx.moveTo(66, linhas[i]); ctx.lineTo(110, linhas[i]); ctx.stroke();
                        ctx.fillStyle = cores[i];
                        ctx.beginPath(); ctx.arc(88, linhas[i], 1.6, 0, Math.PI * 2); ctx.fill();
                        ctx.fillStyle = '#000';
                        textoRico(ctx, partesNome(nome), 115, bases[i], 14, 'left');
                    });
                    ctx.restore();
                }
            };
        }

        function criarGrafico(id, painel) {
            const series = painel.series;
            const ordem = [6, 5, 4, 3, 2, 1];
            const ctx = document.getElementById(id).getContext('2d');
            return new Chart(ctx, {
                type: 'line',
                data: {
                    datasets: series.map((s, i) => ({
                        label: nomesSeries[i],
                        data: pontos(s),
                        borderColor: cores[i],
                        backgroundColor: cores[i],
                        borderWidth: 1,
                        pointRadius: 1.4,
                        pointBorderWidth: 0,
                        pointBackgroundColor: cores[i],
                        pointHoverRadius: 0,
                        spanGaps: false,
                        tension: 0,
                        order: ordem[i]
                    }))
                },
                options: {
                    responsive: false,
                    animation: false,
                    events: [],
                    layout: { padding: { top: 32, right: 14, left: 0, bottom: 0 } },
                    plugins: { legend: { display: false }, tooltip: { enabled: false } },
                    scales: {
                        x: {
                            type: 'linear',
                            min: painel.xMin,
                            max: painel.xMax,
                            afterFit: s => { s.height = 37; },
                            grid: { color: 'rgba(0,0,0,0.45)', lineWidth: 1, drawTicks: false },
                            border: { display: false, dash: [1, 3] },
                            ticks: { stepSize: 10, autoSkip: false, maxRotation: 0, padding: 5, color: '#000', font: { family: FONTE, size: 14 } }
                        },
                        y: {
                            type: 'linear',
                            min: 0,
                            max: 8,
                            afterFit: s => { s.width = 52; },
                            grid: { color: 'rgba(0,0,0,0.45)', lineWidth: 1, drawTicks: false },
                            border: { display: false, dash: [1, 3] },
                            ticks: { stepSize: 1, autoSkip: false, padding: 6, color: '#000', font: { family: FONTE, size: 14 } }
                        }
                    }
                },
                plugins: [decoracao(painel)]
            });
        }

        criarGrafico('grafico1', {
            xMin: 0, xMax: 80,
            series: [topT1Hs, topT0Hs, topT1Tm, topT0Tm, topT1Dir, topT0Dir],
            locais: [{ km: 32.3, nome: 'AFSLUITDIJK', kmTexto: 37.4 }, { km: 62.0 }],
            notas: [{ txt: 'T', sub: 'm-1,0', km: 21.8, v: 5.5 }, { txt: 'θ', sub: 'w', km: 23.2, v: 3.51 }, { txt: 'H', sub: 'm0', km: 20.2, v: 0.65 }]
        });

        criarGrafico('grafico2', {
            xMin: 80, xMax: 230,
            series: [botT1Hs, botT0Hs, botT1Tm, botT0Tm, botT1Dir, botT0Dir],
            locais: [{ km: 136.3, nome: 'LAUWERSMEER', kmTexto: 130.0 }, { km: 183.0, nome: 'EEMSHAVEN', kmTexto: 180.0 }],
            notas: [{ txt: 'T', sub: 'm-1,0', km: 103.8, v: 5.14 }, { txt: 'θ', sub: 'w', km: 108.2, v: 3.27 }, { txt: 'H', sub: 'm0', km: 105.7, v: 1.77 }]
        });
    </script>
</body>
</html>
